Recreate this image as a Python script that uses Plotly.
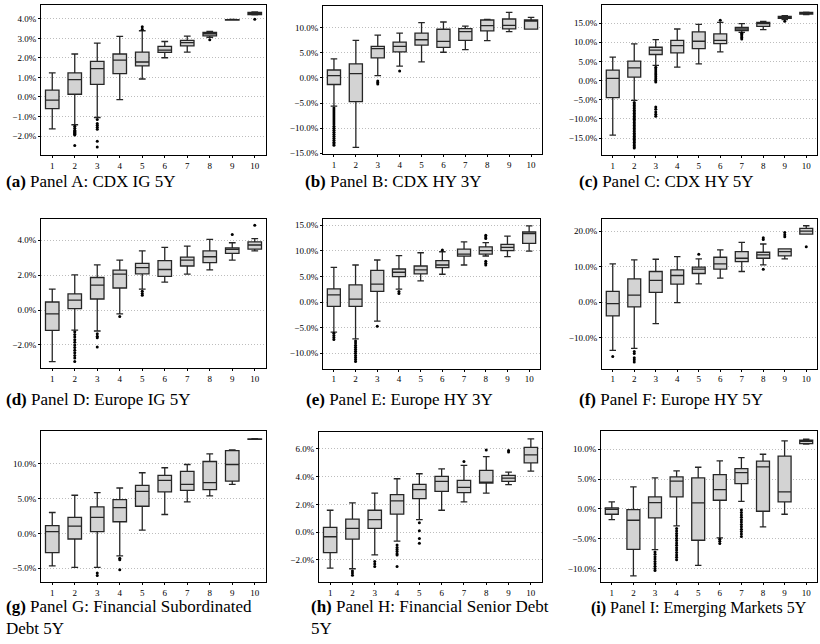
import plotly.graph_objects as go

# ---------------- data (percent) ----------------
CATEGORIES = [1, 2, 3, 4, 5, 6, 7, 8, 9, 10]
TICK_LABELS = ["1", "2", "3", "4", "5", "6", "7", "8", "9", "10"]

# Panel A: CDX IG 5Y
A_LO = [-1.63, -1.42, -1.05, -0.13, 0.92, 2.01, 2.30, 3.05, 3.93, 4.20]
A_Q1 = [-0.59, 0.14, 0.65, 1.20, 1.59, 2.28, 2.62, 3.13, 3.94, 4.22]
A_MED = [-0.16, 0.89, 1.45, 1.89, 1.79, 2.40, 2.78, 3.23, 3.95, 4.27]
A_Q3 = [0.35, 1.23, 1.82, 2.20, 2.30, 2.59, 2.90, 3.30, 3.96, 4.33]
A_HI = [1.23, 2.20, 2.76, 3.10, 3.39, 2.84, 3.12, 3.36, 3.97, 4.36]
A_OUT = {2: [-1.5, -1.6, -1.7, -1.75, -1.8, -1.85, -1.9, -1.95, -2.48],
         3: [-1.15, -1.35, -1.45, -1.55, -1.65, -2.26, -2.56],
         5: [3.47, 3.6], 8: [2.93], 10: [3.98]}

# Panel B: CDX HY 3Y
B_LO = [-5.64, -13.82, 0.44, 2.34, 3.19, 5.09, 5.60, 7.39, 9.21, 9.69]
B_Q1 = [-1.32, -4.73, 3.98, 5.16, 6.53, 6.07, 7.45, 9.35, 9.74, 9.69]
B_MED = [0.44, 0.84, 5.81, 6.27, 7.58, 7.25, 9.20, 10.39, 10.45, 11.40]
B_Q3 = [1.56, 2.80, 6.27, 7.12, 8.89, 9.67, 9.80, 11.51, 11.71, 11.51]
B_HI = [3.78, 7.45, 8.50, 8.89, 10.98, 11.11, 10.30, 11.64, 13.03, 12.04]
B_OUT = {1: [-6.0, -6.4, -6.8, -7.2, -7.6, -8.0, -8.4, -8.8, -9.2, -9.6, -10.0,
             -10.4, -10.8, -11.2, -11.6, -12.0, -12.4, -12.8, -13.1, -13.4],
         3: [-0.6, -0.9, -1.2], 4: [1.36]}

# Panel C: CDX HY 5Y
C_LO = [-14.2, -5.14, 3.94, 3.50, 4.37, 7.48, 12.58, 13.27, 15.90, 17.20]
C_Q1 = [-4.45, 0.91, 6.79, 7.22, 8.35, 9.64, 13.00, 14.14, 16.20, 17.33]
C_MED = [0.57, 3.33, 7.91, 9.12, 10.25, 10.50, 13.44, 14.83, 16.47, 17.55]
C_Q3 = [2.73, 5.06, 8.69, 10.50, 12.67, 12.15, 13.88, 15.17, 16.73, 17.77]
C_HI = [6.10, 9.56, 10.68, 13.44, 14.65, 15.17, 14.83, 15.43, 16.90, 17.85]
C_OUT = {2: [-5.7, -6.1, -6.5, -6.9, -7.3, -7.7, -8.1, -8.5, -8.9, -9.3, -9.7,
             -10.1, -10.5, -10.9, -11.3, -11.7, -12.1, -12.5, -12.9, -13.3,
             -13.7, -14.1, -14.5, -14.9, -15.3, -15.7, -16.1, -16.5, -16.9,
             -17.3, -17.6],
         3: [3.5, 3.0, 2.5, 2.0, 1.5, 1.0, 0.5, 0.0, -0.4, -6.9, -7.5, -8.2,
             -8.8, -9.3],
         6: [15.7], 7: [12.3, 12.0, 11.6, 11.2, 10.85], 9: [15.43]}

# Panel D: Europe IG 5Y
D_LO = [-2.95, -1.15, -1.20, -0.22, 1.20, 1.60, 2.05, 2.30, 2.86, 3.39]
D_Q1 = [-1.17, 0.08, 0.63, 1.26, 2.07, 1.92, 2.52, 2.71, 3.24, 3.49]
D_MED = [-0.22, 0.57, 1.43, 2.05, 2.43, 2.32, 2.86, 3.05, 3.47, 3.72]
D_Q3 = [0.46, 0.93, 1.86, 2.28, 2.67, 2.83, 3.03, 3.38, 3.56, 3.90]
D_HI = [1.20, 2.01, 2.58, 2.86, 3.39, 3.58, 3.66, 4.04, 3.85, 4.09]
D_OUT = {2: [-1.25, -1.4, -1.55, -1.7, -1.85, -2.0, -2.15, -2.3, -2.45, -2.6,
             -2.75, -2.95],
         3: [-1.36, -1.5, -1.58, -2.11], 4: [-0.37], 5: [1.07, 0.95, 0.84],
         9: [4.32], 10: [4.85]}

# Panel E: Europe HY 3Y
E_LO = [-5.87, -7.16, -3.73, 2.53, 4.15, 5.44, 7.25, 9.00, 8.88, 9.96]
E_Q1 = [-0.83, -0.83, 2.08, 4.99, 5.50, 6.73, 8.99, 9.38, 10.04, 11.45]
E_MED = [1.43, 0.60, 3.50, 5.83, 6.28, 7.25, 9.38, 10.04, 10.68, 13.40]
E_Q3 = [2.60, 3.37, 6.21, 6.47, 7.05, 8.09, 10.35, 10.80, 11.26, 13.72]
E_HI = [6.80, 7.25, 8.22, 9.06, 9.64, 9.83, 11.77, 11.60, 12.87, 14.90]
E_OUT = {1: [-6.1, -6.5, -6.9, -7.3],
         2: [-7.6, -8.0, -8.4, -8.8, -9.2, -9.6, -10.0, -10.4, -10.8, -11.2,
             -11.6],
         3: [-4.7], 4: [2.08, 1.7], 6: [10.16],
         8: [13.06, 12.7, 12.4, 8.0, 7.6, 7.25]}

# Panel F: Europe HY 5Y
F_LO = [-13.55, -13.0, -6.0, -0.13, 5.18, 6.77, 8.63, 10.5, 12.17, 19.16]
F_Q1 = [-3.86, -1.34, 2.76, 5.09, 8.07, 9.28, 11.43, 12.36, 13.0, 19.16]
F_MED = [-0.41, 2.01, 6.11, 7.51, 9.28, 10.77, 12.36, 13.29, 14.2, 20.0]
F_Q3 = [3.04, 6.58, 8.63, 9.10, 9.84, 12.64, 14.22, 14.04, 14.97, 20.75]
F_HI = [10.77, 11.9, 12.08, 12.82, 12.17, 14.69, 16.83, 16.37, 14.97, 21.5]
F_OUT = {1: [-15.3], 2: [-13.9, -14.4, -15.6, -16.2, -16.8], 5: [13.48],
         8: [18.1, 17.6, 9.28], 9: [19.6, 19.0, 18.4], 10: [15.6]}

# Panel G: Financial Subordinated Debt 5Y
G_LO = [-4.67, -4.90, -4.90, -3.24, 0.48, 2.71, 4.52, 5.38, 7.05, 13.50]
G_Q1 = [-2.76, -0.81, 0.24, 1.67, 3.90, 5.95, 6.19, 6.29, 7.52, 13.52]
G_MED = [0.24, 1.05, 2.29, 3.71, 6.05, 7.62, 7.05, 7.29, 9.90, 13.55]
G_Q3 = [1.10, 2.29, 3.81, 4.86, 6.90, 8.33, 8.90, 10.33, 11.90, 13.58]
G_HI = [3.00, 5.48, 5.86, 6.52, 8.71, 9.43, 9.90, 11.43, 12.00, 13.60]
G_OUT = {3: [-5.7, -6.05], 4: [-3.57, -3.8, -5.24]}

# Panel H: Financial Senior Debt 5Y
H_LO = [-2.60, -2.64, -1.64, -0.64, 0.91, 1.58, 2.18, 2.82, 3.42, 4.40]
H_Q1 = [-1.47, -0.50, 0.27, 1.30, 2.42, 2.94, 2.85, 3.54, 3.66, 5.00]
H_MED = [-0.33, 0.27, 0.91, 2.25, 3.06, 3.66, 3.23, 3.61, 3.90, 5.57]
H_Q3 = [0.34, 0.94, 1.58, 2.70, 3.44, 4.02, 3.73, 4.45, 4.09, 6.12]
H_HI = [1.58, 2.11, 2.82, 3.85, 4.21, 4.57, 4.81, 5.45, 4.33, 6.72]
H_OUT = {2: [-2.8, -2.95, -3.1], 3: [-2.12, -2.3, -2.48],
         4: [-0.93, -1.1, -1.25, -1.4, -1.55, -1.64, -2.48],
         5: [0.67, 0.1, -0.45, -0.8], 7: [5.09], 8: [5.93], 9: [5.88, 5.78]}

# Panel I: Emerging Markets 5Y
I_LO = [-1.79, -11.23, -6.82, -2.85, -9.44, -4.86, 1.28, -3.02, -0.89, 10.84]
I_Q1 = [-0.89, -6.76, -1.51, 2.01, -5.25, 1.45, 4.25, -0.39, 1.17, 10.95]
I_MED = [-0.06, -1.90, 1.06, 4.64, 1.00, 3.24, 6.09, 7.04, 2.85, 11.34]
I_Q3 = [0.17, -0.11, 2.01, 5.36, 5.20, 5.75, 6.76, 7.99, 8.83, 11.50]
I_HI = [1.17, 3.69, 5.20, 6.37, 6.98, 8.04, 8.60, 9.16, 11.40, 11.68]
I_OUT = {3: [-7.2, -7.6, -8.0, -8.4, -8.8, -9.2, -9.6, -10.0, -10.3],
         4: [-3.3, -3.7, -4.1, -4.5, -4.9, -5.3, -5.7, -6.1, -6.5, -6.9, -7.3,
             -7.7, -8.1, -8.5],
         6: [-5.1, -5.4, -5.8],
         7: [-0.2, -0.6, -1.0, -1.4, -1.8, -2.2, -2.6, -3.0, -3.4, -3.8, -4.2,
             -4.6]}

CAPTIONS = {
    "a": "Panel A: CDX IG 5Y", "b": "Panel B: CDX HY 3Y", "c": "Panel C: CDX HY 5Y",
    "d": "Panel D: Europe IG 5Y", "e": "Panel E: Europe HY 3Y", "f": "Panel F: Europe HY 5Y",
    "g": "Panel G: Financial Subordinated<br>Debt 5Y",
    "h": "Panel H: Financial Senior Debt<br>5Y",
    "i": "Panel I: Emerging Markets 5Y",
}
Y_TICKS = {
    "a": [-2, -1, 0, 1, 2, 3, 4], "b": [-15, -10, -5, 0, 5, 10],
    "c": [-15, -10, -5, 0, 5, 10, 15], "d": [-2, 0, 2, 4],
    "e": [-10, -5, 0, 5, 10, 15], "f": [-10, 0, 10, 20],
    "g": [-5, 0, 5, 10], "h": [-2, 0, 2, 4, 6], "i": [-10, -5, 0, 5, 10],
}

PANEL_DATA = {
    "a": (A_LO, A_Q1, A_MED, A_Q3, A_HI, A_OUT),
    "b": (B_LO, B_Q1, B_MED, B_Q3, B_HI, B_OUT),
    "c": (C_LO, C_Q1, C_MED, C_Q3, C_HI, C_OUT),
    "d": (D_LO, D_Q1, D_MED, D_Q3, D_HI, D_OUT),
    "e": (E_LO, E_Q1, E_MED, E_Q3, E_HI, E_OUT),
    "f": (F_LO, F_Q1, F_MED, F_Q3, F_HI, F_OUT),
    "g": (G_LO, G_Q1, G_MED, G_Q3, G_HI, G_OUT),
    "h": (H_LO, H_Q1, H_MED, H_Q3, H_HI, H_OUT),
    "i": (I_LO, I_Q1, I_MED, I_Q3, I_HI, I_OUT),
}


def pct_label(v):
    s = f"{abs(v):.1f}%"
    return ("\u2212" + s) if v < 0 else s


# ---------------- layout (pixels) ----------------
W, H = 820, 644
# left, right, top, bottom of plot frames
POS = {
    "a": (41, 266, 5, 156), "b": (323, 542, 6, 155), "c": (602, 817, 5, 156),
    "d": (41, 266, 220, 370), "e": (323, 540, 220, 371), "f": (602, 817, 220, 371),
    "g": (41, 266, 434, 586), "h": (319, 542, 435, 586), "i": (601, 817, 434, 586),
}
Y_RANGE = {
    "a": [-2.97, 4.71], "b": [-15.15, 14.3], "c": [-19.4, 19.7],
    "d": [-3.3, 5.23], "e": [-13.0, 16.3], "f": [-18.7, 23.5],
    "g": [-7.04, 14.67], "h": [-3.62, 7.2], "i": [-12.3, 13.0],
}
CAPTION_POS = {  # x-left, y-center, font size
    "a": (4, 183, 17), "b": (303, 183, 17), "c": (577, 183, 17),
    "d": (4, 402, 17), "e": (304, 402, 17), "f": (577, 402, 17),
    "g": (4, 621, 17), "h": (309, 621, 17), "i": (589, 612, 16),
}


def px_x(v):
    return v / W


def px_y(v):
    return 1 - v / H


SERIF = "Liberation Serif"
fig = go.Figure()
layout = dict(
    width=W, height=H, margin=dict(l=0, r=0, t=0, b=0),
    paper_bgcolor="white", plot_bgcolor="white", showlegend=False,
    font=dict(family=SERIF, color="black"), annotations=[],
)

for idx, key in enumerate("abcdefghi", start=1):
    lo, q1, med, q3, hi, out = PANEL_DATA[key]
    xa = "x" if idx == 1 else f"x{idx}"
    ya = "y" if idx == 1 else f"y{idx}"
    fig.add_trace(go.Box(
        x=CATEGORIES, lowerfence=lo, q1=q1, median=med, q3=q3, upperfence=hi,
        xaxis=xa, yaxis=ya, boxpoints=False, width=0.6, whiskerwidth=0.5,
        fillcolor="#d3d3d3", line=dict(color="#262626", width=1.3),
        hoverinfo="skip",
    ))
    ox, oy = [], []
    for cat, vals in out.items():
        for v in vals:
            ox.append(cat)
            oy.append(v)
    if ox:
        fig.add_trace(go.Scatter(
            x=ox, y=oy, mode="markers", xaxis=xa, yaxis=ya,
            marker=dict(size=3, color="black"), hoverinfo="skip",
        ))
    l, r, t, b = POS[key]
    xname = "xaxis" if idx == 1 else f"xaxis{idx}"
    yname = "yaxis" if idx == 1 else f"yaxis{idx}"
    layout[xname] = dict(
        domain=[px_x(l), px_x(r)], anchor=ya, range=[0.5, 10.5],
        tickmode="array", tickvals=CATEGORIES, ticktext=TICK_LABELS,
        showgrid=False, zeroline=False,
        showline=True, mirror=True, linecolor="black", linewidth=1,
        ticks="outside", ticklen=2, tickcolor="black",
        tickfont=dict(family=SERIF, size=9, color="black"),
    )
    layout[yname] = dict(
        domain=[px_y(b), px_y(t)], anchor=xa, range=Y_RANGE[key],
        tickmode="array", tickvals=Y_TICKS[key],
        ticktext=[pct_label(v) for v in Y_TICKS[key]],
        showgrid=True, gridcolor="#bdbdbd", griddash="1px,2px", gridwidth=1,
        zeroline=False, showline=True, mirror=True, linecolor="black", linewidth=1,
        ticks="outside", ticklen=2, tickcolor="black",
        tickfont=dict(family=SERIF, size=9, color="black"),
    )
    cx, cy, fs = CAPTION_POS[key]
    layout["annotations"].append(dict(
        text=f"<b>({key})</b> {CAPTIONS[key]}", xref="paper", yref="paper",
        x=px_x(cx), y=px_y(cy), xanchor="left", yanchor="middle", align="left",
        showarrow=False, font=dict(family=SERIF, size=fs, color="black"),
    ))

fig.update_layout(**layout)
fig.write_html(
    "out.html",
    config={"displayModeBar": False, "staticPlot": True},
    post_script="document.body.style.margin='0';document.body.style.overflow='hidden';",
)
